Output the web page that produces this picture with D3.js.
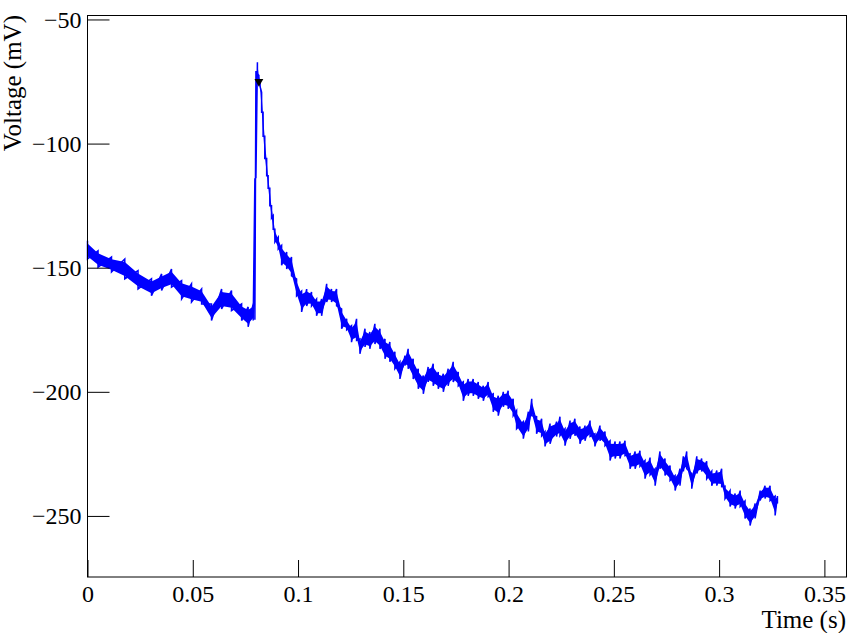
<!DOCTYPE html>
<html lang="en">
<head>
    <meta charset="utf-8">
    <title>Voltage trace</title>
    <script src="https://d3js.org/d3.v7.min.js"></script>
    <style>
        body { margin: 0; background: #fff; }
        text { font-family: "Liberation Serif", "DejaVu Serif", serif; }
    </style>
</head>
<body>
<script type="text/javascript">
    var w = 856;
    var h = 633;

    // sample times (s) and the low / high edge of the noisy trace (mV)
    var times = [0.0000, 0.0050, 0.0114, 0.0177, 0.0240, 0.0304, 0.0352, 0.0399, 0.0447, 0.0494,
        0.0542, 0.0589, 0.0637, 0.0684, 0.0732, 0.0763, 0.0787, 0.0795, 0.0800, 0.0807,
        0.0814, 0.0819, 0.0827, 0.0834, 0.0842, 0.0851, 0.0858, 0.0866, 0.0874, 0.0882,
        0.0890, 0.0906, 0.0922, 0.0946, 0.0969, 0.0993, 0.1017, 0.1041, 0.1064, 0.1088,
        0.1112, 0.1136, 0.1159, 0.1183, 0.1207, 0.1231, 0.1254, 0.1278, 0.1294, 0.1318,
        0.1341, 0.1365, 0.1389, 0.1413, 0.1436, 0.1460, 0.1484, 0.1508, 0.1523, 0.1547,
        0.1571, 0.1595, 0.1618, 0.1642, 0.1666, 0.1690, 0.1713, 0.1737, 0.1761, 0.1785,
        0.1808, 0.1832, 0.1856, 0.1880, 0.1903, 0.1927, 0.1951, 0.1975, 0.1998, 0.2022,
        0.2038, 0.2070, 0.2094, 0.2110, 0.2133, 0.2157, 0.2173, 0.2197, 0.2228, 0.2244,
        0.2268, 0.2292, 0.2315, 0.2339, 0.2363, 0.2387, 0.2410, 0.2434, 0.2458, 0.2482,
        0.2506, 0.2529, 0.2553, 0.2577, 0.2601, 0.2624, 0.2648, 0.2672, 0.2696, 0.2719,
        0.2743, 0.2767, 0.2791, 0.2814, 0.2830, 0.2846, 0.2870, 0.2894, 0.2917, 0.2941,
        0.2965, 0.2989, 0.3012, 0.3028, 0.3052, 0.3076, 0.3100, 0.3123, 0.3147, 0.3171,
        0.3195, 0.3218, 0.3242, 0.3266, 0.3277];
    var voltHigh = [-139.1, -143.2, -145.7, -146.5, -151.2, -154.5, -152.5, -150.5, -155.2, -156.5,
        -158.6, -164.6, -158.6, -159.2, -164.6, -165.8, -164.6, -114.0, -70.8, -67.2,
        -72.5, -74.0, -79.4, -87.4, -97.0, -106.0, -113.0, -118.0, -125.0, -129.0,
        -134.5, -137.7, -141.0, -143.7, -145.7, -154.5, -159.4, -158.6, -159.8, -162.6,
        -162.6, -156.5, -158.6, -158.6, -166.6, -170.6, -173.3, -170.6, -178.7, -174.6,
        -175.9, -172.6, -174.6, -178.7, -179.9, -183.9, -187.9, -185.4, -182.7, -186.7,
        -190.7, -193.4, -190.0, -188.7, -192.0, -192.7, -190.7, -187.9, -192.0, -196.0,
        -194.8, -194.8, -196.0, -197.6, -196.0, -200.8, -201.6, -200.0, -199.6, -202.8,
        -207.5, -212.0, -208.0, -202.8, -210.0, -210.8, -216.0, -212.8, -212.0, -210.0,
        -214.9, -211.6, -210.8, -214.0, -213.6, -211.6, -216.9, -213.6, -216.0, -219.7,
        -220.0, -220.0, -219.7, -225.0, -224.0, -223.7, -227.7, -226.5, -231.0, -224.0,
        -226.9, -229.7, -233.7, -231.0, -226.0, -224.0, -232.9, -226.0, -226.9, -228.0,
        -232.0, -231.7, -231.0, -238.0, -239.8, -241.0, -239.8, -244.0, -247.0, -245.0,
        -239.8, -237.8, -237.8, -242.0, -242.0];
    var voltLow = [-146.5, -149.8, -151.7, -154.5, -158.6, -161.3, -159.2, -157.8, -162.6, -163.8,
        -164.6, -171.3, -166.6, -167.3, -171.3, -173.8, -171.3, -171.0, -114.0, -72.0,
        -76.0, -76.8, -87.4, -97.0, -106.0, -113.0, -118.0, -125.0, -130.0, -134.5,
        -139.7, -142.5, -149.0, -150.5, -153.3, -161.4, -167.8, -165.4, -165.4, -169.4,
        -169.4, -163.8, -163.8, -165.4, -174.6, -175.0, -180.0, -179.3, -184.7, -181.9,
        -182.7, -180.7, -182.7, -186.7, -187.9, -190.7, -194.8, -189.4, -190.7, -194.8,
        -198.8, -200.8, -196.0, -197.6, -198.8, -200.0, -197.6, -196.0, -197.6, -203.6,
        -201.6, -201.6, -202.8, -203.6, -202.0, -208.0, -209.6, -206.0, -206.8, -209.6,
        -214.9, -218.9, -216.0, -209.6, -216.9, -217.7, -222.0, -220.9, -218.0, -217.7,
        -221.7, -218.9, -217.7, -220.9, -219.7, -218.0, -222.0, -219.7, -221.7, -227.7,
        -226.9, -226.9, -225.7, -231.0, -231.0, -230.0, -235.0, -233.5, -237.8, -231.0,
        -233.7, -235.7, -239.8, -237.8, -232.1, -231.0, -239.0, -232.9, -232.1, -235.0,
        -237.8, -237.8, -238.2, -243.0, -246.2, -247.0, -246.2, -251.0, -253.9, -251.0,
        -243.8, -243.0, -243.8, -249.8, -245.0];

    // marker at the peak
    var peakTime = 0.0814;
    var peakVolt = -75.0;

    var xTicks = [0, 0.05, 0.1, 0.15, 0.2, 0.25, 0.3, 0.35];
    var xTickLabels = ["0", "0.05", "0.1", "0.15", "0.2", "0.25", "0.3", "0.35"];
    var yTicks = [-250, -200, -150, -100, -50];
    var yTickLabels = ["\u2212250", "\u2212200", "\u2212150", "\u2212100", "\u221250"];

    var svg = d3.select("body")
        .append("svg").attr("width", w).attr("height", h);

    var x = d3.scaleLinear().domain([0, 0.3605]).range([87.5, 846.5]);
    var y = d3.scaleLinear().domain([-274.6, -48.2]).range([577, 15]);

    var pts = times.map(function (t, i) {
        return { t: t, lo: voltLow[i], hi: voltHigh[i] };
    });

    // filled core of the band
    var area = d3.area()
        .x(d => x(d.t))
        .y0(d => y(d.lo + (d.hi - d.lo) * 0.15))
        .y1(d => y(d.hi - (d.hi - d.lo) * 0.15));
    svg.append("path").datum(pts)
        .attr("d", area)
        .style("fill", "#0000ff");

    // zigzag through the edges to give the noisy look
    var zig = [];
    pts.forEach(function (d) {
        zig.push([d.t, d.hi]);
        zig.push([d.t, d.lo]);
    });
    var line = d3.line().x(d => x(d[0])).y(d => y(d[1]));
    svg.append("path").datum(zig)
        .attr("d", line)
        .style("fill", "none")
        .style("stroke", "#0000ff")
        .style("stroke-width", 1.5);

    // peak marker
    svg.append("path")
        .attr("d", d3.symbol().type(d3.symbolTriangle).size(34))
        .attr("transform", "translate(" + x(peakTime) + "," + y(peakVolt) + ") rotate(180)")
        .style("fill", "#000");

    // axes, ticks pointing inwards
    var xMinor = d3.range(0, 0.3601, 0.01);
    var yMinor = d3.range(-270, -49, 10);

    var gx = svg.append("g").attr("transform", "translate(0,577)");
    gx.call(d3.axisBottom(x).tickValues(xMinor).tickSize(-8).tickFormat(""));
    gx.call(d3.axisBottom(x).tickValues(xTicks).tickSize(-17).tickPadding(8)
        .tickFormat((d, i) => xTickLabels[i]));

    var gy = svg.append("g").attr("transform", "translate(87.5,0)");
    gy.call(d3.axisLeft(y).tickValues(yMinor).tickSize(-11).tickFormat(""));
    gy.call(d3.axisLeft(y).tickValues(yTicks).tickSize(-22).tickPadding(6)
        .tickFormat((d, i) => yTickLabels[i]));

    svg.selectAll(".domain").remove();
    svg.selectAll(".tick line").style("stroke", "#000");
    svg.selectAll(".tick text")
        .style("font-family", "'Liberation Serif', serif")
        .style("font-size", "24px")
        .style("fill", "#000");
    gx.selectAll(".tick text").attr("dy", "0.71em").attr("y", 8);

    // frame
    svg.append("rect")
        .attr("x", 87.5).attr("y", 15.5)
        .attr("width", 846.5 - 87.5).attr("height", 577 - 15.5)
        .style("fill", "none").style("stroke", "#000").style("stroke-width", 1);

    // axis titles
    svg.append("text")
        .attr("x", 846).attr("y", 628)
        .attr("text-anchor", "end")
        .style("font-size", "25px")
        .text("Time (s)");

    svg.append("text")
        .attr("transform", "translate(21,15) rotate(-90)")
        .attr("text-anchor", "end")
        .style("font-size", "25px")
        .text("Voltage (mV)");
</script>
</body>
</html>
